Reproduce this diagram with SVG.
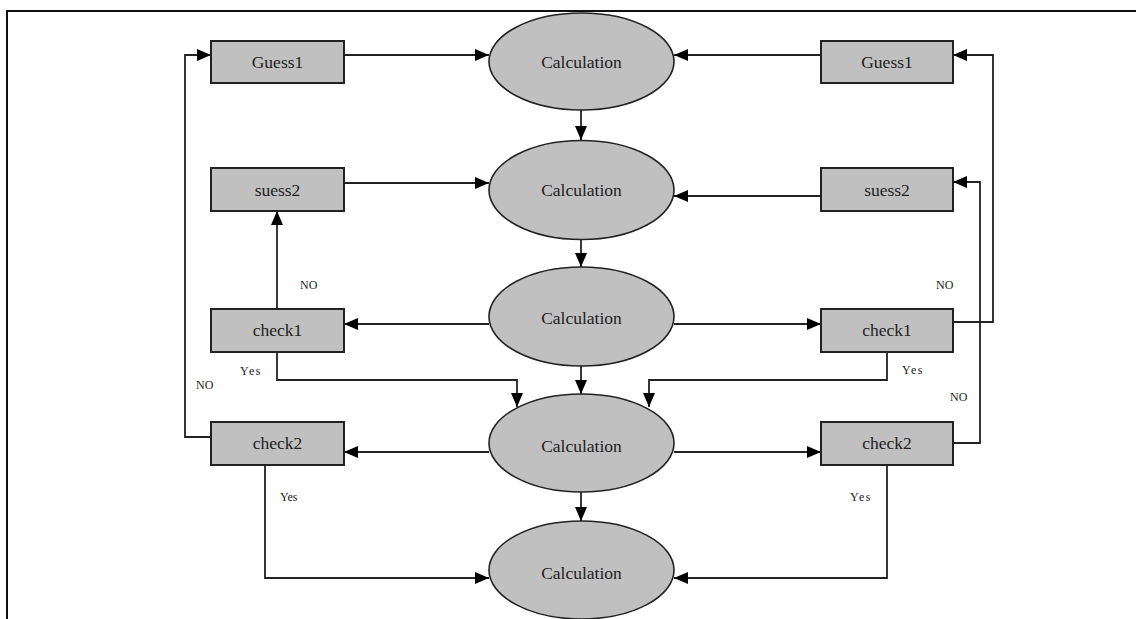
<svg xmlns="http://www.w3.org/2000/svg" width="1136" height="619" viewBox="0 0 1136 619">
<style>
.box{fill:#c0c0c0;stroke:#222;stroke-width:2}
.ell{fill:#c0c0c0;stroke:#222;stroke-width:1.6}
text{font-family:'Liberation Serif','Times New Roman','DejaVu Serif',serif}
.t{font-size:17.5px;fill:#222;text-anchor:middle}
.lb{font-size:12px;fill:#222}
.c{fill:none;stroke:#222;stroke-width:1.8}
</style>
<defs>
<marker id="ah" viewBox="0 0 14 12" refX="14" refY="6" markerWidth="14" markerHeight="12" markerUnits="userSpaceOnUse" orient="auto">
<path d="M0,0 L14,6 L0,12 Z" fill="#000"/>
</marker>
</defs>
<rect width="1136" height="619" fill="#fff"/>
<path d="M7,619 L7,11 L1136,11" fill="none" stroke="#111" stroke-width="2"/>

<g id="connectors">
<path class="c" d="M344,55 L489,55" marker-end="url(#ah)"/>
<path class="c" d="M821,55 L674,55" marker-end="url(#ah)"/>
<path class="c" d="M344,183 L489,183" marker-end="url(#ah)"/>
<path class="c" d="M821,196 L674,196" marker-end="url(#ah)"/>
<path class="c" d="M581,110 L581,140" marker-end="url(#ah)"/>
<path class="c" d="M581,239 L581,267" marker-end="url(#ah)"/>
<path class="c" d="M581,366 L581,394" marker-end="url(#ah)"/>
<path class="c" d="M581,492 L581,521" marker-end="url(#ah)"/>
<path class="c" d="M489,324 L344,324" marker-end="url(#ah)"/>
<path class="c" d="M674,324 L821,324" marker-end="url(#ah)"/>
<path class="c" d="M489,452 L344,452" marker-end="url(#ah)"/>
<path class="c" d="M674,452 L821,452" marker-end="url(#ah)"/>
<path class="c" d="M277,309 L277,211" marker-end="url(#ah)"/>
<path class="c" d="M277,352 L277,380 L517,380 L517,407" marker-end="url(#ah)"/>
<path class="c" d="M887,352 L887,380 L649,380 L649,407" marker-end="url(#ah)"/>
<path class="c" d="M953,322 L993,322 L993,55 L953,55" marker-end="url(#ah)"/>
<path class="c" d="M953,443 L980,443 L980,182 L953,182" marker-end="url(#ah)"/>
<path class="c" d="M211,437 L185,437 L185,55 L211,55" marker-end="url(#ah)"/>
<path class="c" d="M265,465 L265,578 L489,578" marker-end="url(#ah)"/>
<path class="c" d="M887,465 L887,578 L674,578" marker-end="url(#ah)"/>
</g>

<g id="calc1"><ellipse class="ell" cx="581.5" cy="61.5" rx="92.5" ry="48.5"/><text class="t" x="581.5" y="68">Calculation</text></g>
<g id="calc2"><ellipse class="ell" cx="581.5" cy="190" rx="92.5" ry="49.5"/><text class="t" x="581.5" y="196">Calculation</text></g>
<g id="calc3"><ellipse class="ell" cx="581.5" cy="316.5" rx="92.5" ry="49.5"/><text class="t" x="581.5" y="324">Calculation</text></g>
<g id="calc4"><ellipse class="ell" cx="581.5" cy="443" rx="92.5" ry="49"/><text class="t" x="581.5" y="452">Calculation</text></g>
<g id="calc5"><ellipse class="ell" cx="581.5" cy="570" rx="92.5" ry="49"/><text class="t" x="581.5" y="579">Calculation</text></g>

<g id="guess1L"><rect class="box" x="211" y="41" width="133" height="42"/><text class="t" x="277.5" y="68">Guess1</text></g>
<g id="suess2L"><rect class="box" x="211" y="168" width="133" height="43"/><text class="t" x="277.5" y="196">suess2</text></g>
<g id="check1L"><rect class="box" x="211" y="309" width="133" height="43"/><text class="t" x="277.5" y="336">check1</text></g>
<g id="check2L"><rect class="box" x="211" y="422" width="133" height="43"/><text class="t" x="277.5" y="449">check2</text></g>

<g id="guess1R"><rect class="box" x="821" y="41" width="132" height="42"/><text class="t" x="887" y="68">Guess1</text></g>
<g id="suess2R"><rect class="box" x="821" y="168" width="132" height="43"/><text class="t" x="887" y="196">suess2</text></g>
<g id="check1R"><rect class="box" x="821" y="309" width="132" height="43"/><text class="t" x="887" y="336">check1</text></g>
<g id="check2R"><rect class="box" x="821" y="422" width="132" height="43"/><text class="t" x="887" y="449">check2</text></g>

<g id="labels">
<text class="lb" x="300" y="289">NO</text>
<text class="lb" x="240" y="375" letter-spacing="1.5">Yes</text>
<text class="lb" x="196" y="389">NO</text>
<text class="lb" x="280" y="501">Yes</text>
<text class="lb" x="936" y="289">NO</text>
<text class="lb" x="902" y="374" letter-spacing="1.5">Yes</text>
<text class="lb" x="950" y="401">NO</text>
<text class="lb" x="850" y="501" letter-spacing="1.5">Yes</text>
</g>
</svg>
